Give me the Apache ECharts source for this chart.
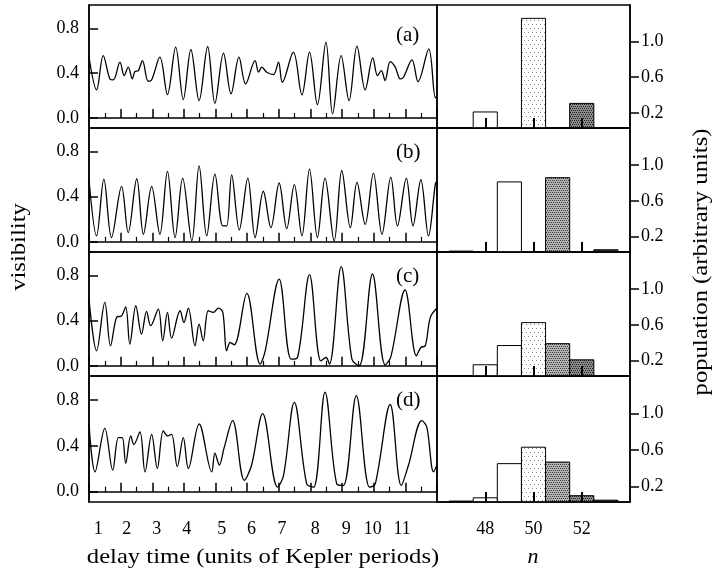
<!DOCTYPE html>
<html><head><meta charset="utf-8">
<script src="https://cdn.jsdelivr.net/npm/echarts@6/dist/echarts.min.js"></script>
<style>html,body{margin:0;padding:0;background:#fff}#c{width:717px;height:573px}</style>
</head><body><div id="c"></div>
<script>
// ---------- data ----------
const panelNames = ['(a)', '(b)', '(c)', '(d)'];
const timeTickLabels = ['1','2','3','4','5','6','7','8','9','10','11'];
const timeTickLabelPos = [0.29, 1.19, 2.14, 3.09, 4.2, 5.14, 6.1, 7.15, 8.13, 8.97, 9.9];
const visTicks = [0, 0.4, 0.8];
const popTicks = [0.2, 0.6, 1.0];
const nTicks = [48, 50, 52];
const nValues = [47, 48, 49, 50, 51, 52, 53];

const popA = [null, 0.21, null, 1.26, null, 0.306, null];
const popB = [0.04, null, 0.81, null, 0.857, null, 0.055];
const popC = [null, 0.155, 0.369, 0.624, 0.39, 0.21, null];
const popD = [0.04, 0.076, 0.45, 0.63, 0.467, 0.099, 0.05];

const timeA = [0,0.24,0.45,0.66,0.77,0.98,1.11,1.24,1.37,1.45,1.56,1.69,1.87,1.98,2.24,2.48,2.74,2.98,3.22,3.48,3.75,3.98,4.25,4.49,4.74,4.95,5.25,5.36,5.46,5.62,5.83,5.99,6.11,6.46,6.73,6.97,7.22,7.49,7.70,7.97,8.22,8.47,8.73,8.97,9.12,9.24,9.36,9.52,9.68,9.84,9.94,10.21,10.40,10.74,10.95,11.0];
const visA = [0.543,0.251,0.558,0.349,0.340,0.499,0.379,0.454,0.349,0.415,0.424,0.513,0.328,0.340,0.543,0.209,0.633,0.164,0.612,0.155,0.639,0.131,0.579,0.215,0.543,0.304,0.513,0.409,0.454,0.409,0.388,0.499,0.319,0.588,0.206,0.588,0.119,0.678,0.036,0.558,0.155,0.642,0.251,0.537,0.379,0.424,0.334,0.504,0.454,0.349,0.364,0.519,0.325,0.618,0.179,0.2];

const timeB = [0,0.24,0.47,0.71,1.03,1.24,1.51,1.72,1.98,2.24,2.48,2.72,2.96,3.25,3.48,3.72,3.98,4.23,4.35,4.51,4.75,5.02,5.25,5.51,5.75,6.01,6.25,6.49,6.73,6.97,7.22,7.46,7.75,7.99,8.26,8.47,8.73,8.99,9.26,9.54,9.75,10.03,10.24,10.49,10.73,10.95,11.0];
const visB = [0.551,0.053,0.557,0.038,0.493,0.082,0.560,0.067,0.493,0.067,0.625,0.038,0.566,0.009,0.674,0.053,0.601,0.141,0.141,0.595,0.106,0.566,0.038,0.449,0.126,0.522,0.117,0.507,0.053,0.645,0.038,0.566,0.009,0.633,0.126,0.528,0.155,0.610,0.067,0.575,0.141,0.566,0.141,0.551,0.053,0.516,0.537];

const timeC = [0,0.24,0.50,0.68,0.87,1.03,1.16,1.29,1.48,1.66,1.82,1.95,2.19,2.33,2.48,2.61,2.88,3.00,3.14,3.35,3.48,3.61,3.77,3.93,4.09,4.23,4.35,4.46,4.59,4.99,5.41,5.57,6.01,6.39,6.59,6.97,7.33,7.49,7.60,7.97,8.31,8.54,8.96,9.36,9.54,9.99,10.35,10.49,10.63,10.79,11.0];
const visC = [0.593,0.133,0.563,0.178,0.430,0.444,0.524,0.193,0.533,0.281,0.483,0.356,0.504,0.222,0.474,0.246,0.489,0.385,0.513,0.178,0.370,0.222,0.489,0.474,0.513,0.474,0.133,0.207,0.187,0.643,0.015,0.133,0.770,0.059,0.074,0.809,0.044,0.074,0.015,0.880,0.059,0.000,0.815,0.009,0.080,0.673,0.089,0.163,0.178,0.430,0.513];

const timeD = [0,0.19,0.50,0.75,0.93,1.05,1.16,1.32,1.42,1.61,1.77,1.98,2.16,2.35,2.49,2.61,2.79,2.98,3.14,3.48,3.88,3.98,4.12,4.27,4.54,4.91,5.14,5.49,5.96,6.15,6.49,6.88,7.10,7.46,7.83,8.04,8.45,8.87,9.05,9.52,9.87,10.10,10.52,10.68,10.89,11.0];
const visD = [0.591,0.173,0.552,0.188,0.472,0.472,0.248,0.487,0.412,0.522,0.173,0.501,0.203,0.531,0.487,0.501,0.218,0.472,0.203,0.591,0.173,0.337,0.233,0.382,0.621,0.099,0.233,0.681,0.039,0.143,0.779,0.069,0.039,0.869,0.069,0.054,0.839,0.039,0.069,0.761,0.054,0.233,0.621,0.561,0.173,0.233];

// ---------- layout / style ----------
const times = [timeA, timeB, timeC, timeD];
const vis = [visA, visB, visC, visD];
const pops = [popA, popB, popC, popD];
const tops = [5, 128, 252, 376];
const heights = [123, 124, 124, 126];
const labelOffsets = [31, 25, 25, 25];
const FONT = '"Liberation Serif", "Times New Roman", Times, serif';
const visMin = -0.09, visMax = 1.01, popMin = 0.03, popMax = 1.41;

// regular stipple textures for the shaded bars (style only)
function stipple(size, base, dot, step) {
  const c = document.createElement('canvas');
  c.width = size; c.height = size;
  const g = c.getContext('2d');
  g.fillStyle = base; g.fillRect(0, 0, size, size);
  g.fillStyle = dot;
  for (let y = 0; y < size; y += step) {
    for (let x = ((y / step) % 2) * Math.floor(step / 2); x < size; x += step) g.fillRect(x, y, 1, 1);
  }
  return {image: c, repeat: 'repeat'};
}
const barShades = [
  '#111111', '#ffffff', '#ffffff',
  stipple(8, '#ffffff', '#888888', 4),
  stipple(8, '#b4b4b4', '#3c3c3c', 2),
  stipple(8, '#8c8c8c', '#222222', 2),
  stipple(8, '#555555', '#111111', 2)
];

const chart = echarts.init(document.getElementById('c'), null, {renderer: 'canvas'});
const grid = [], xAxis = [], yAxis = [], series = [], graphic = [];
for (let p = 0; p < 4; p++) {
  const last = p === 3;
  grid.push({left: 89, width: 348, top: tops[p], height: heights[p], show: true, borderColor: '#000', borderWidth: 1.5, backgroundColor: 'transparent'});
  grid.push({left: 437, width: 193, top: tops[p], height: heights[p], show: true, borderColor: '#000', borderWidth: 1.5, backgroundColor: 'transparent'});
  xAxis.push({
    gridIndex: 2 * p, type: 'value', min: 0, max: 11, interval: 1, z: 10,
    axisLine: {show: true, lineStyle: {color: '#000', width: 1.5}},
    axisTick: {show: true, inside: true, length: 9, lineStyle: {color: '#000', width: 1.5}},
    minorTick: {show: true, splitNumber: 2, length: 5, lineStyle: {color: '#000', width: 1.2}},
    splitLine: {show: false},
    axisLabel: {show: last, customValues: timeTickLabelPos, margin: 18, color: '#000', fontFamily: FONT, fontSize: 18,
      formatter: v => timeTickLabels[timeTickLabelPos.indexOf(v)]}
  });
  xAxis.push({
    gridIndex: 2 * p + 1, type: 'value', min: 46, max: 54, z: 10,
    axisLine: {show: true, lineStyle: {color: '#000', width: 1.5}},
    axisTick: {show: true, inside: true, length: 10, customValues: nTicks, lineStyle: {color: '#000', width: 2}},
    splitLine: {show: false},
    axisLabel: {show: last, customValues: nTicks, margin: 18, color: '#000', fontFamily: FONT, fontSize: 18}
  });
  yAxis.push({
    gridIndex: 2 * p, type: 'value', min: visMin, max: visMax, z: 10,
    axisLine: {show: true, lineStyle: {color: '#000', width: 1.5}},
    axisTick: {show: true, inside: true, length: 9, customValues: visTicks, lineStyle: {color: '#000', width: 1.5}},
    splitLine: {show: false},
    axisLabel: {customValues: visTicks, margin: 10, padding: [5, 0, 0, 0], color: '#000', fontFamily: FONT, fontSize: 18, formatter: v => v.toFixed(1)}
  });
  yAxis.push({
    gridIndex: 2 * p + 1, type: 'value', position: 'right', min: popMin, max: popMax, z: 10,
    axisLine: {show: true, lineStyle: {color: '#000', width: 1.5}},
    axisTick: {show: true, inside: false, length: 9, customValues: popTicks, lineStyle: {color: '#000', width: 1.5}},
    splitLine: {show: false},
    axisLabel: {customValues: popTicks, margin: 11, color: '#000', fontFamily: FONT, fontSize: 18, formatter: v => v.toFixed(1)}
  });
  series.push({
    type: 'line', xAxisIndex: 2 * p, yAxisIndex: 2 * p, showSymbol: false, smooth: 0.35, clip: true,
    lineStyle: {color: '#000', width: 1.3},
    data: times[p].map((t, i) => [t, vis[p][i]])
  });
  const barData = [];
  nValues.forEach((n, i) => { if (pops[p][i] != null) barData.push([n, pops[p][i], i]); });
  series.push({
    type: 'custom', xAxisIndex: 2 * p + 1, yAxisIndex: 2 * p + 1, clip: true, z: 2,
    data: barData,
    renderItem: (params, api) => {
      const n = api.value(0), v = api.value(1), k = api.value(2);
      const a = api.coord([n - 0.5, v]);
      const b = api.coord([n + 0.5, popMin]);
      return {type: 'rect', shape: {x: a[0], y: a[1], width: b[0] - a[0], height: b[1] - a[1]},
        style: {fill: barShades[k], stroke: '#000', lineWidth: 1}};
    }
  });
  graphic.push({type: 'text', left: 396, top: tops[p] + labelOffsets[p] - 11,
    style: {text: panelNames[p], font: '21px ' + FONT, fill: '#000'}});
}
graphic.push({type: 'text', x: 263, y: 557, style: {text: 'delay time (units of Kepler periods)', font: '22px ' + FONT, fill: '#000', align: 'center', verticalAlign: 'middle'}, scaleX: 1.12});
graphic.push({type: 'text', x: 533, y: 557, style: {text: 'n', font: 'italic 22px ' + FONT, fill: '#000', align: 'center', verticalAlign: 'middle'}});
graphic.push({type: 'text', x: 19, y: 247, rotation: Math.PI / 2, style: {text: 'visibility', font: '22px ' + FONT, fill: '#000', align: 'center', verticalAlign: 'middle'}, scaleX: 1.12});
graphic.push({type: 'text', x: 701, y: 262, rotation: Math.PI / 2, style: {text: 'population (arbitrary units)', font: '22px ' + FONT, fill: '#000', align: 'center', verticalAlign: 'middle'}, scaleX: 1.12});

chart.setOption({animation: false, backgroundColor: '#fff', grid, xAxis, yAxis, series, graphic});
</script></body></html>
